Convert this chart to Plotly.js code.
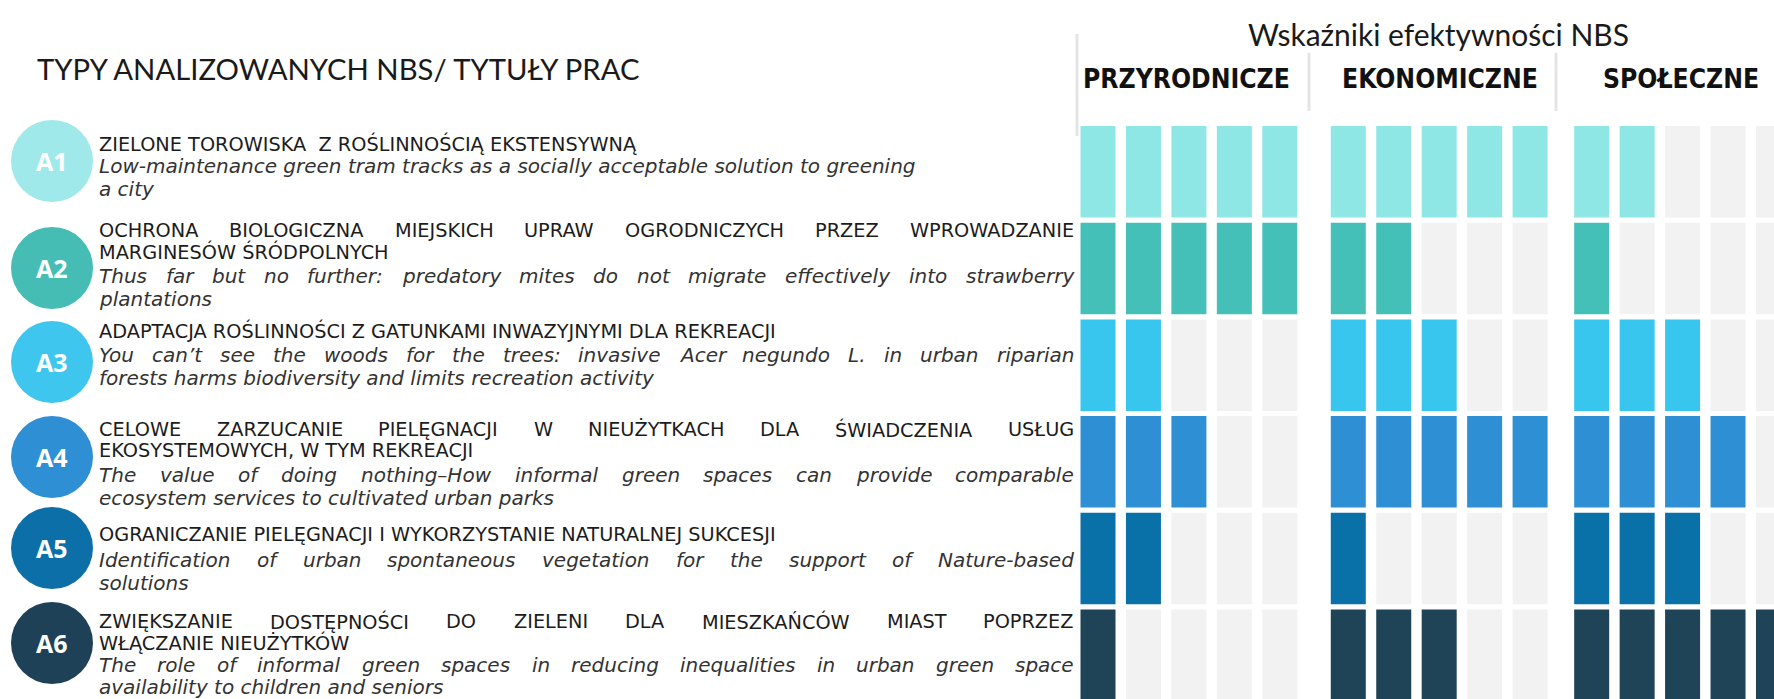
<!DOCTYPE html>
<html><head><meta charset="utf-8">
<script src="https://cdn.plot.ly/plotly-3.0.1.min.js"></script>
<style>html,body{margin:0;padding:0;background:#fff;overflow:hidden}</style>
</head><body><div id="chart" style="width:1774px;height:699px"></div>
<script>
// ---------------- DATA ----------------
const codes = ['A1','A2','A3','A4','A5','A6'];
const groupNames = ['PRZYRODNICZE','EKONOMICZNE','SPOŁECZNE'];
// number of fulfilled indicators (out of 5) in each group, per NBS type
const przyrodnicze = [5,5,2,3,2,1];
const ekonomiczne  = [5,2,3,5,1,3];
const spoleczne    = [2,1,3,4,3,5];
const indicatorsPerGroup = 5;
const chartTitle = 'Wskaźniki efektywności NBS';
const listTitle = 'TYPY ANALIZOWANYCH NBS/ TYTUŁY PRAC';
const titlesPL = [
 ['ZIELONE TOROWISKA  Z ROŚLINNOŚCIĄ EKSTENSYWNĄ'],
 ['OCHRONA BIOLOGICZNA MIEJSKICH UPRAW OGRODNICZYCH PRZEZ WPROWADZANIE','MARGINESÓW ŚRÓDPOLNYCH'],
 ['ADAPTACJA ROŚLINNOŚCI Z GATUNKAMI INWAZYJNYMI DLA REKREACJI'],
 ['CELOWE ZARZUCANIE PIELĘGNACJI W NIEUŻYTKACH DLA ŚWIADCZENIA USŁUG','EKOSYSTEMOWYCH, W TYM REKREACJI'],
 ['OGRANICZANIE PIELĘGNACJI I WYKORZYSTANIE NATURALNEJ SUKCESJI'],
 ['ZWIĘKSZANIE DOSTĘPNOŚCI DO ZIELENI DLA MIESZKAŃCÓW MIAST POPRZEZ','WŁĄCZANIE NIEUŻYTKÓW']
];
const titlesEN = [
 ['Low-maintenance green tram tracks as a socially acceptable solution to greening','a city'],
 ['Thus far but no further: predatory mites do not migrate effectively into strawberry','plantations'],
 ['You can’t see the woods for the trees: invasive Acer negundo L. in urban riparian','forests harms biodiversity and limits recreation activity'],
 ['The value of doing nothing–How informal green spaces can provide comparable','ecosystem services to cultivated urban parks'],
 ['Identification of urban spontaneous vegetation for the support of Nature-based','solutions'],
 ['The role of informal green spaces in reducing inequalities in urban green space','availability to children and seniors']
];

// ---------------- STYLE / LAYOUT ----------------
const W = 1774, H = 699;
const rowColors = ['#8fe7e5','#45c0b8','#39c6ee','#2e8fd5','#0a71a8','#1f4357'];
const circleColors = ['#9fe9ea','#45bdb5','#3fc6ee','#2f8fd5','#0c6fa7','#1e4157'];
const emptyColor = '#f2f2f2';
const groupOffset = [0, 5.507, 10.862];
const colPitchPx = 45.45, firstColPx = 1098, barWidth = 0.77;
const rowPitchPx = 96.7, firstRowCenterPx = 171.75, barHeight = 0.946;
const circleCx = 52, circleR = 41, circleCy = [161, 268, 362, 457, 548, 643];
const plY = [[144],[230.5,251.5],[331],[429.5,450.5],[534],[621.5,642.5]];
const enY = [[166,189],[276,299],[355,378],[475,498],[560,583],[665,687]];
const plJust = [[false],[true,false],[false],[true,false],[false],[true,false]];
const enJust = [[false,false],[true,false],[true,false],[true,false],[true,false],[true,false]];
const textLeft = 98, textRight = 1073;
const plMaxBox = 22.6, enMaxBox = 23.4;

const FONT_PL = 'DejaVu Sans', FONT_EN = 'DejaVu Sans', FONT_HEAD = 'DejaVu Sans Condensed, Liberation Sans Narrow, Roboto';
const cv = document.createElement('canvas').getContext('2d');
function fontStr(size, fam, weight, style){
  return (style||'normal') + ' ' + (weight||'normal') + ' ' + size + 'px ' + fam.split(',').map(f=>"'"+f.trim()+"'").join(',');
}
function measure(t, size, fam, weight, style){ cv.font = fontStr(size, fam, weight, style); return cv.measureText(t).width; }
function boxPerEm(fam, weight, style){
  cv.font = fontStr(100, fam, weight, style);
  const m = cv.measureText('ĄŚgyÓ');
  const b = (m.fontBoundingBoxAscent||93) + (m.fontBoundingBoxDescent||24);
  return b / 100;
}
function fit(t, target, fam, weight, style){ return 40 * target / measure(t, 40, fam, weight, style); }

const plSize = Math.min(fit(titlesPL[4][0], 797, FONT_PL), plMaxBox / boxPerEm(FONT_PL));
const enSize = Math.min(fit(titlesEN[0][0], 916, FONT_EN, 'normal', 'italic'), enMaxBox / boxPerEm(FONT_EN, 'normal', 'italic'));
const listSize = fit(listTitle, 607, 'Lato');
const chartTitleSize = fit(chartTitle, 381, 'Lato');
const headSize = fit(groupNames[0], 207, FONT_HEAD, 'bold');

const px = x => x / W, py = y => 1 - y / H;
const annotations = [];
function ann(text, x, y, font, anchor){
  annotations.push({text, x: px(x), y: py(y), xref:'paper', yref:'paper', showarrow:false,
    xanchor: anchor||'left', yanchor:'middle', font, borderpad:0});
}
function line(text, y, font, fam, weight, style, justify){
  if(!justify){ ann(text, textLeft, y, font); return; }
  const words = text.split(' ');
  const ws = words.map(w => measure(w, font.size, fam, weight, style));
  const gap = (textRight - textLeft - ws.reduce((a,b)=>a+b,0)) / (words.length-1);
  let x = textLeft;
  words.forEach((w,k)=>{ ann(w, x, y, font); x += ws[k] + gap; });
}

// headings
ann(listTitle, 36, 68, {family:'Lato', size:listSize, color:'#1a1a1a'});
ann(chartTitle, 1438, 34, {family:'Lato', size:chartTitleSize, color:'#1a1a1a'}, 'center');
[1186, 1440, 1681].forEach((cx,g)=> ann(groupNames[g], cx, 79,
  {family:FONT_HEAD, size:headSize, color:'#111', weight:'bold'}, 'center'));

// row texts
codes.forEach((c,i)=>{
  titlesPL[i].forEach((t,k)=> line(t, plY[i][k], {family:FONT_PL, size:plSize, color:'#1c1c1c'}, FONT_PL, 'normal', 'normal', plJust[i][k]));
  titlesEN[i].forEach((t,k)=> line(t, enY[i][k], {family:FONT_EN, size:enSize, color:'#333333', style:'italic'}, FONT_EN, 'normal', 'italic', enJust[i][k]));
  ann(c, circleCx, circleCy[i], {family:'Open Sans', size:25, color:'#ffffff', weight:'bold'}, 'center');
});

const shapes = [];
codes.forEach((c,i)=> shapes.push({type:'circle', xref:'paper', yref:'paper',
  x0:px(circleCx-circleR), x1:px(circleCx+circleR), y0:py(circleCy[i]+circleR), y1:py(circleCy[i]-circleR),
  fillcolor:circleColors[i], line:{width:0}, layer:'below'}));
[[1077,34,136],[1309,53,111],[1556,53,111]].forEach(([x,y0,y1])=> shapes.push({type:'line', xref:'paper', yref:'paper',
  x0:px(x), x1:px(x), y0:py(y0), y1:py(y1), line:{color:'#e4e4e4', width:3}}));

// grid of indicators as bars
const groupCounts = [przyrodnicze, ekonomiczne, spoleczne];
const traces = codes.map((c,i)=>{
  const xs=[], cols=[];
  groupCounts.forEach((arr,g)=>{
    for(let j=0;j<indicatorsPerGroup;j++){ xs.push(groupOffset[g]+j); cols.push(j < arr[i] ? rowColors[i] : emptyColor); }
  });
  return {type:'bar', name:c, x:xs, y:xs.map(()=>barHeight), base:xs.map(()=>i-barHeight/2),
    width:barWidth, marker:{color:cols, line:{width:0}}, hoverinfo:'skip', showlegend:false};
});

const xr = [-firstColPx/colPitchPx, (W-firstColPx)/colPitchPx];
const yr = [(H-firstRowCenterPx)/rowPitchPx, -firstRowCenterPx/rowPitchPx];
Plotly.newPlot('chart', traces, {
  width:W, height:H, margin:{l:0,r:0,t:0,b:0,pad:0},
  paper_bgcolor:'#ffffff', plot_bgcolor:'rgba(0,0,0,0)', barmode:'overlay',
  xaxis:{range:xr, visible:false, fixedrange:true},
  yaxis:{range:yr, visible:false, fixedrange:true},
  annotations, shapes
}, {staticPlot:true, displayModeBar:false});
</script></body></html>
